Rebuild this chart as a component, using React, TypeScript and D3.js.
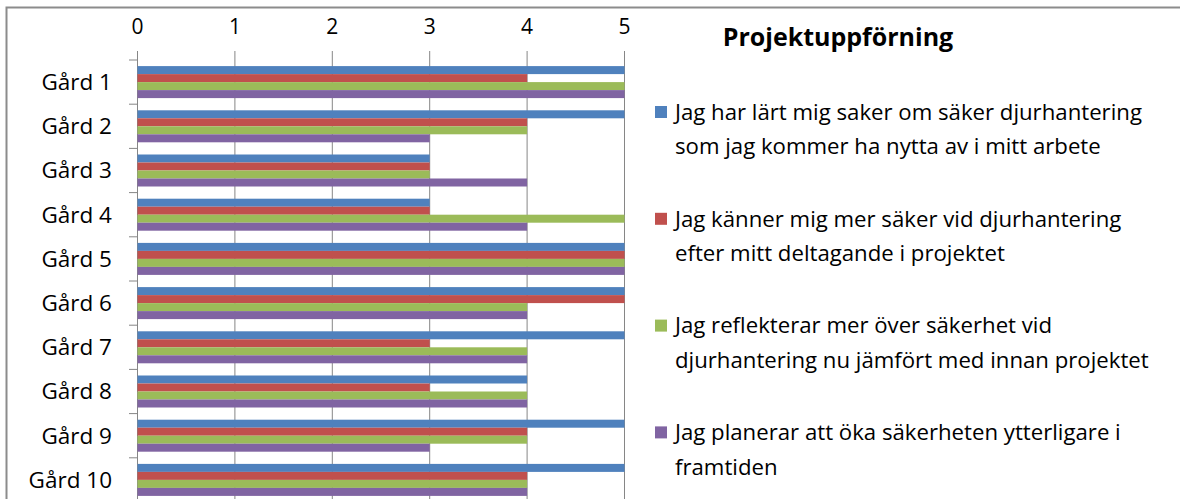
import React from "react";
import * as d3 from "d3";

const categories = ["Gård 1", "Gård 2", "Gård 3", "Gård 4", "Gård 5", "Gård 6", "Gård 7", "Gård 8", "Gård 9", "Gård 10"];
const seriesNames = [
  ["Jag har lärt mig saker om säker djurhantering", "som jag kommer ha nytta av i mitt arbete"],
  ["Jag känner mig mer säker vid djurhantering", "efter mitt deltagande i projektet"],
  ["Jag reflekterar mer över säkerhet vid", "djurhantering nu jämfört med innan projektet"],
  ["Jag planerar att öka säkerheten ytterligare i", "framtiden"],
];
const seriesColors = ["#4F81BD", "#C0504D", "#9BBB59", "#8064A2"];
const lart = [5, 5, 3, 3, 5, 5, 5, 4, 5, 5];
const kanner = [4, 4, 3, 3, 5, 5, 3, 3, 4, 4];
const reflekterar = [5, 4, 3, 5, 5, 4, 4, 4, 4, 4];
const planerar = [5, 3, 4, 4, 5, 4, 4, 4, 3, 4];
const seriesValues = [lart, kanner, reflekterar, planerar];
const ticks = [0, 1, 2, 3, 4, 5];
const title = "Projektuppförning";

const W = 1180, H = 499;
const font = "'Open Sans', sans-serif";

export default function App() {
  const x = d3.scaleLinear().domain([0, 5]).range([137.5, 624.5]);
  const y0 = d3.scaleBand<string>().domain(categories).range([60, 502]).paddingInner(0.276).paddingOuter(0.138);
  const y1 = d3.scaleBand<number>().domain([0, 1, 2, 3]).range([0, y0.bandwidth()]);
  const step = y0.step();
  const gridColor = "#868686";

  return (
    <svg width={W} height={H} style={{ position: "absolute", left: 0, top: 0, background: "#fff" }} fontFamily={font}>
      <rect x={0} y={0} width={W} height={H} fill="#fff" />
      <path d={`M6.5,${H + 5}V7.5H${W + 5}`} fill="none" stroke="#8c8c8c" strokeWidth={2} />
      {ticks.map((t) => (
        <g key={t}>
          <line x1={x(t)} x2={x(t)} y1={51} y2={H + 5} stroke={gridColor} strokeWidth={1} />
          <text x={x(t)} y={27} dy="0.35em" textAnchor="middle" fontSize={21} fill="#000">{t}</text>
        </g>
      ))}
      {d3.range(categories.length + 1).map((i) => (
        <line key={i} x1={129} x2={137.5} y1={60 + i * step} y2={60 + i * step} stroke={gridColor} />
      ))}
      {categories.map((c, ci) => (
        <g key={c} transform={`translate(0,${y0(c)})`}>
          {seriesValues.map((vals, si) => (
            <rect key={si} x={x(0)} y={y1(si)} width={x(vals[ci]) - x(0)} height={y1.bandwidth()} fill={seriesColors[si]} />
          ))}
          <text x={112} y={y0.bandwidth() / 2} dy="0.35em" textAnchor="end" fontSize={22.5} fill="#000">{c}</text>
        </g>
      ))}
      <text x={838} y={37} dy="0.35em" textAnchor="middle" fontSize={25} fontWeight="bold" fill="#000">{title}</text>
      {seriesNames.map((lines, i) => {
        const top = 112 + i * 106.8;
        return (
          <g key={i}>
            <rect x={655} y={top - 6} width={12} height={12} fill={seriesColors[i]} />
            {lines.map((l, j) => (
              <text key={j} x={675} y={top + j * 34.5} dy="0.35em" fontSize={22.2} fill="#000">{l}</text>
            ))}
          </g>
        );
      })}
    </svg>
  );
}
